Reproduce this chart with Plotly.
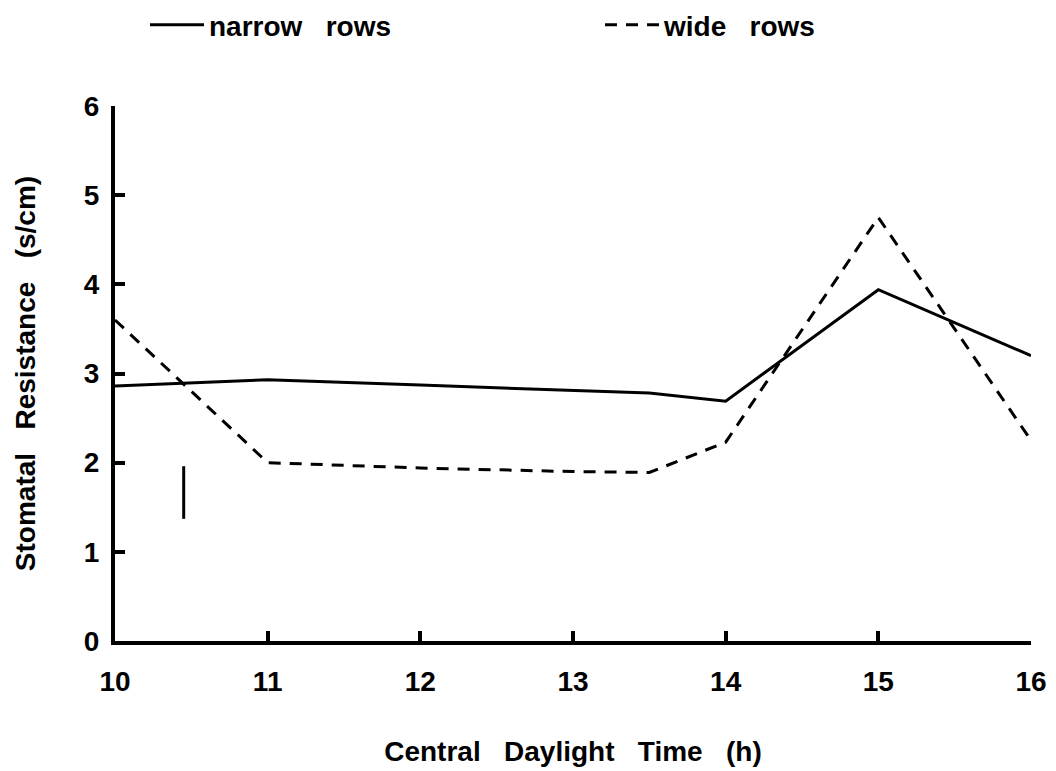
import plotly.graph_objects as go

# Data
hours = [10, 11, 12, 13, 13.5, 14, 15, 16]
narrow_rows = [2.86, 2.93, 2.87, 2.81, 2.78, 2.69, 3.94, 3.20]
wide_rows = [3.60, 2.00, 1.94, 1.90, 1.89, 2.23, 4.75, 2.25]

# Error bar (LSD) indicator
lsd_x = [10.45, 10.45]
lsd_y = [1.37, 1.96]

x_ticks = [10, 11, 12, 13, 14, 15, 16]
y_ticks = [0, 1, 2, 3, 4, 5, 6]

FONT = "Liberation Sans, Arial, sans-serif"
SP = "\u00a0\u00a0 "  # wide word spacing as in the original typesetting

# page body has an 8px margin -> figure is offset by 8px inside the window
W, H = 1048, 763
L, T, R, B = 107, 98, 25, 130
PW, PH = W - L - R, H - T - B

fig = go.Figure()
fig.add_trace(go.Scatter(
    x=hours, y=narrow_rows, mode="lines", name="narrow" + SP + "rows",
    line=dict(color="black", width=3), legend="legend",
))
fig.add_trace(go.Scatter(
    x=hours, y=wide_rows, mode="lines", name="wide" + SP + "rows",
    line=dict(color="black", width=3, dash="12px,9px"), legend="legend2",
))
fig.add_trace(go.Scatter(
    x=lsd_x, y=lsd_y, mode="lines", showlegend=False,
    line=dict(color="black", width=3),
))

axis_common = dict(
    showline=True, linecolor="black", linewidth=4,
    ticks="inside", ticklen=10, tickwidth=4, tickcolor="black",
    showgrid=False, zeroline=False, mirror=False,
    automargin=False,
    ticklabeloverflow="allow",
    tickfont=dict(family=FONT, size=28, color="black", weight="bold"),
)

legend_common = dict(
    xanchor="left", yanchor="top",
    y=1 + (T + 8) / PH,
    bgcolor="rgba(0,0,0,0)",
    font=dict(family=FONT, size=28, color="black", weight="bold"),
    itemwidth=54,
)

fig.update_layout(
    width=W, height=H,
    paper_bgcolor="white", plot_bgcolor="white",
    margin=dict(l=L, r=R, t=T, b=B, autoexpand=False),
    font=dict(family=FONT, color="black"),
    xaxis=dict(
        range=[10, 16], tickvals=x_ticks, ticktext=[str(v) for v in x_ticks],
        ticklabelstandoff=12,
        title=dict(text="Central" + SP + "Daylight" + SP + "Time" + SP + "(h)",
                   font=dict(family=FONT, size=28, weight="bold"), standoff=47),
        **axis_common,
    ),
    yaxis=dict(
        range=[0, 6], tickvals=y_ticks, ticktext=[str(v) for v in y_ticks],
        ticklabelstandoff=6,
        title=dict(text="Stomatal" + SP + "Resistance" + SP + "(s/cm)",
                   font=dict(family=FONT, size=28, weight="bold"), standoff=41),
        **axis_common,
    ),
    legend=dict(x=(137 - L) / PW, **legend_common),
    legend2=dict(x=(592 - L) / PW, **legend_common),
)

fig.write_html("out.html")
